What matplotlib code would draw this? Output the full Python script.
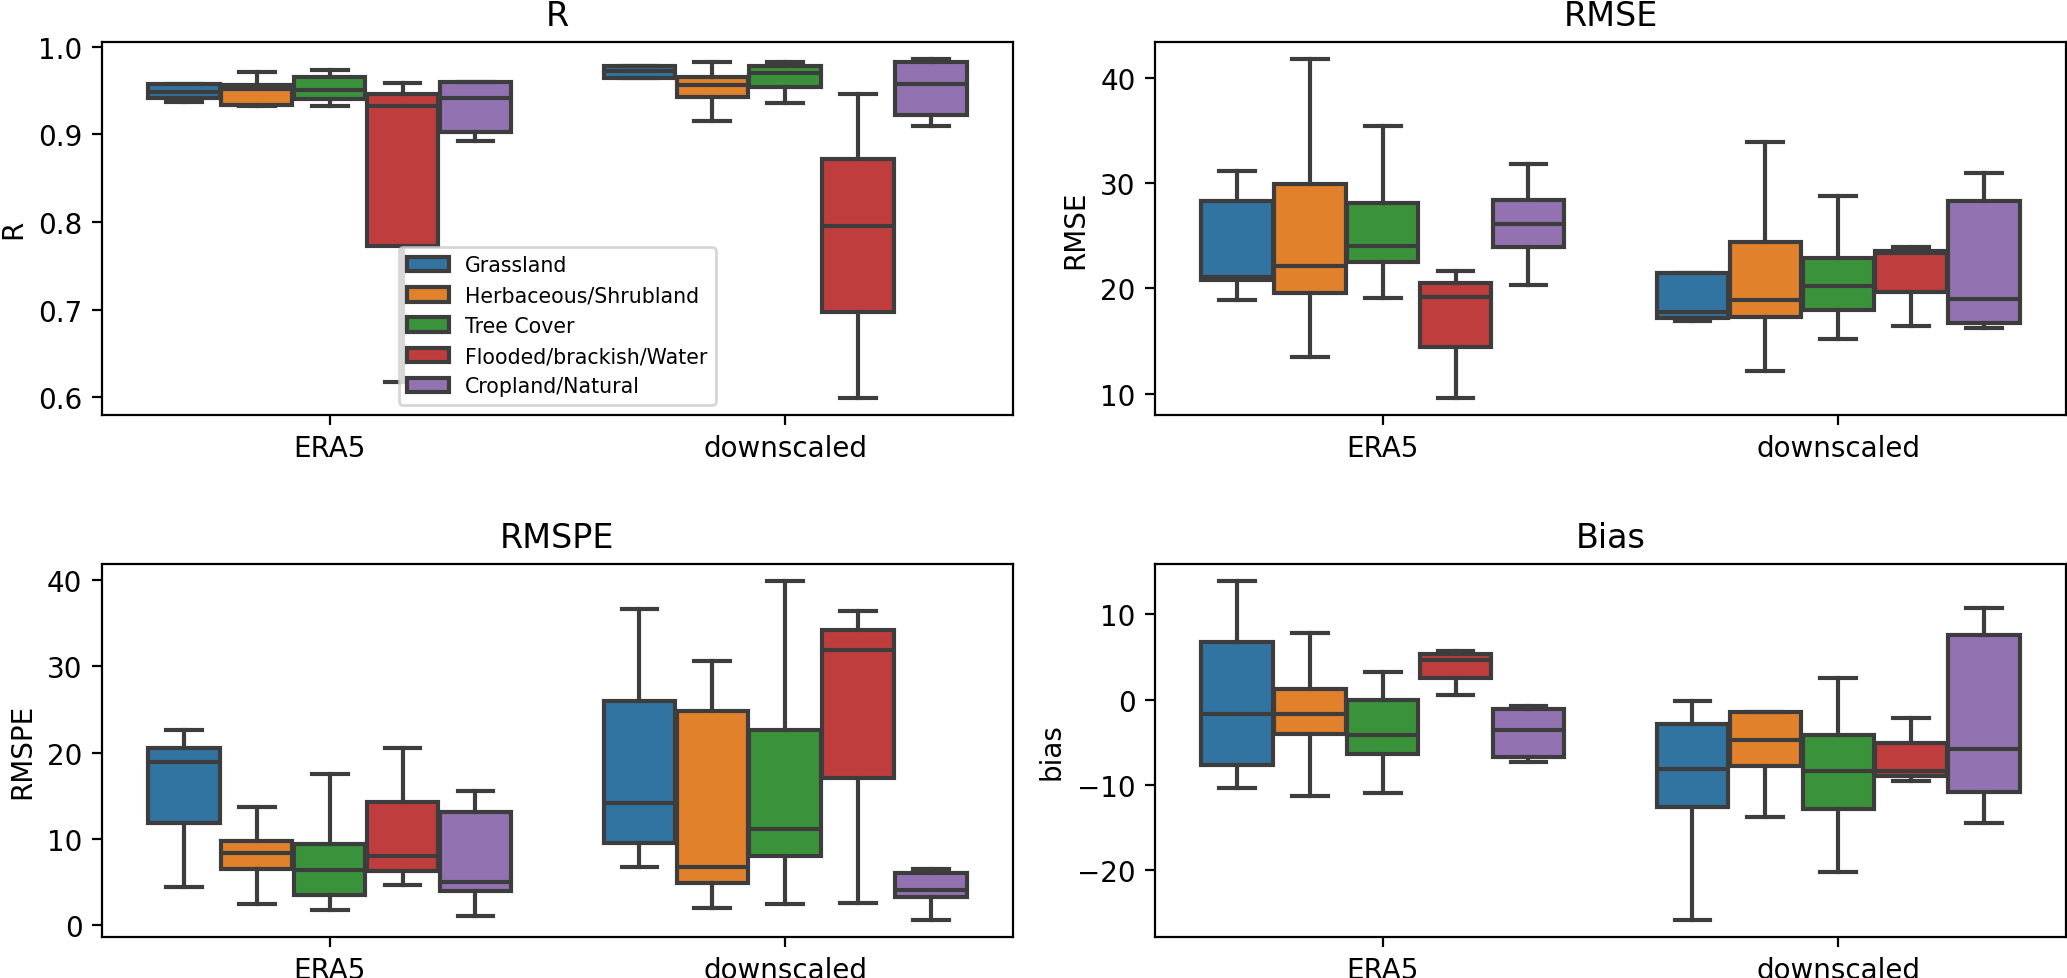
import numpy as np
import matplotlib.pyplot as plt
from matplotlib.patches import Patch

# land cover classes (hue) and data sources (x)
COVERS = ['Grassland', 'Herbaceous/Shrubland', 'Tree Cover',
          'Flooded/brackish/Water', 'Cropland/Natural']
SOURCES = ['ERA5', 'downscaled']

# box stats per land cover: (whisker low, q1, median, q3, whisker high)
R_ERA5 = [(0.937, 0.942, 0.948, 0.958, 0.958),
          (0.932, 0.934, 0.952, 0.956, 0.971),
          (0.932, 0.940, 0.951, 0.965, 0.973),
          (0.617, 0.773, 0.932, 0.946, 0.959),
          (0.892, 0.903, 0.941, 0.960, 0.960)]
R_DOWN = [(0.964, 0.964, 0.972, 0.978, 0.978),
          (0.915, 0.943, 0.956, 0.966, 0.983),
          (0.936, 0.954, 0.970, 0.978, 0.983),
          (0.599, 0.697, 0.795, 0.872, 0.946),
          (0.909, 0.922, 0.958, 0.983, 0.986)]

RMSE_ERA5 = [(18.9, 20.8, 21.1, 28.3, 31.2),
             (13.5, 19.6, 22.1, 29.9, 41.8),
             (19.1, 22.5, 24.0, 28.1, 35.4),
             (9.6, 14.4, 19.2, 20.5, 21.7),
             (20.3, 23.9, 26.1, 28.4, 31.8)]
RMSE_DOWN = [(16.9, 17.2, 17.8, 21.5, 21.5),
             (12.2, 17.3, 18.9, 24.4, 33.9),
             (15.2, 18.0, 20.2, 22.9, 28.8),
             (16.4, 19.7, 23.4, 23.6, 23.9),
             (16.2, 16.7, 19.0, 28.3, 31.0)]

RMSPE_ERA5 = [(4.4, 11.8, 18.9, 20.5, 22.6),
              (2.5, 6.55, 8.4, 9.7, 13.7),
              (1.8, 3.5, 6.4, 9.4, 17.5),
              (4.6, 6.25, 8.0, 14.3, 20.5),
              (1.1, 4.0, 5.05, 13.1, 15.5)]
RMSPE_DOWN = [(6.7, 9.55, 14.2, 25.95, 36.7),
              (2.0, 4.9, 6.7, 24.8, 30.6),
              (2.4, 8.05, 11.1, 22.65, 39.9),
              (2.6, 17.1, 31.9, 34.2, 36.4),
              (0.6, 3.3, 4.1, 6.1, 6.5)]

BIAS_ERA5 = [(-10.3, -7.7, -1.7, 6.7, 13.9),
             (-11.3, -4.0, -1.7, 1.25, 7.8),
             (-10.9, -6.4, -4.1, 0.0, 3.25),
             (0.55, 2.5, 4.6, 5.3, 5.7),
             (-7.3, -6.7, -3.6, -1.1, -0.7)]
BIAS_DOWN = [(-25.8, -12.6, -8.1, -2.9, -0.2),
             (-13.8, -7.8, -4.7, -1.4, -1.4),
             (-20.2, -12.8, -8.4, -4.1, 2.5),
             (-9.5, -8.9, -8.4, -5.1, -2.2),
             (-14.5, -10.8, -5.8, 7.6, 10.7)]

COLORS = ['#3274a1', '#e1812c', '#3a923a', '#c03d3e', '#9372b2']
GRAY = '#3d3d3d'


def draw(ax, era5, down, title, ylabel):
    n = len(COVERS)
    width = 0.8 / n
    offsets = (np.arange(n) - (n - 1) / 2) * width
    for i, group in enumerate([era5, down]):
        for j, (lo, q1, med, q3, hi) in enumerate(group):
            st = dict(whislo=lo, q1=q1, med=med, q3=q3, whishi=hi, fliers=[])
            ax.bxp([st], positions=[i + offsets[j]], widths=width * 0.98,
                   patch_artist=True, showfliers=False, manage_ticks=False,
                   boxprops=dict(facecolor=COLORS[j], edgecolor=GRAY, linewidth=1.5),
                   whiskerprops=dict(color=GRAY, linewidth=1.5),
                   capprops=dict(color=GRAY, linewidth=1.5),
                   medianprops=dict(color=GRAY, linewidth=1.5))
    ax.set_xlim(-0.5, 1.5)
    ax.set_xticks(range(len(SOURCES)))
    ax.set_xticklabels(SOURCES)
    ax.set_title(title, fontsize=12)
    ax.set_ylabel(ylabel)


fig, axes = plt.subplots(2, 2, figsize=(10.335, 4.895), dpi=200)
fig.subplots_adjust(left=0.0493, right=0.9995, top=0.956, bottom=0.042,
                    wspace=0.156, hspace=0.40)

draw(axes[0, 0], R_ERA5, R_DOWN, 'R', 'R')
draw(axes[0, 1], RMSE_ERA5, RMSE_DOWN, 'RMSE', 'RMSE')
draw(axes[1, 0], RMSPE_ERA5, RMSPE_DOWN, 'RMSPE', 'RMSPE')
draw(axes[1, 1], BIAS_ERA5, BIAS_DOWN, 'Bias', 'bias')

handles = [Patch(facecolor=c, edgecolor=GRAY, linewidth=1.5) for c in COLORS]
axes[0, 0].legend(handles, COVERS, loc='lower center', fontsize=7.4)

fig.savefig('out.png', dpi=200)
